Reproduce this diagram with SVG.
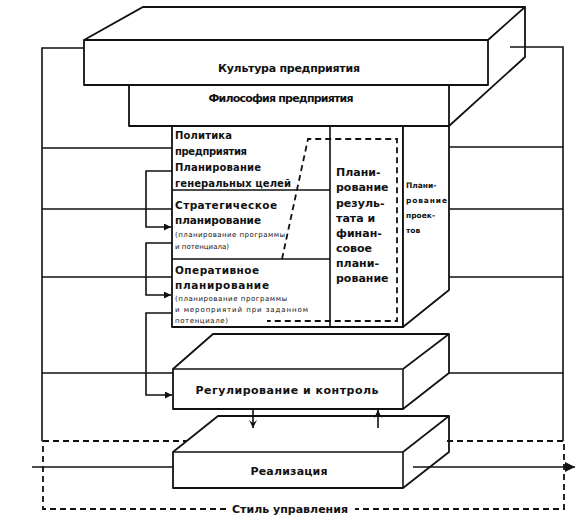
<svg xmlns="http://www.w3.org/2000/svg" width="576" height="526" viewBox="0 0 576 526">
<style>
  .bx{fill:#fff;stroke:#111;stroke-width:1.8;stroke-linejoin:round}
  .wf{fill:#fff;stroke:none}
  .ln{fill:none;stroke:#111;stroke-width:1.6}
  .ds{fill:none;stroke:#111;stroke-width:1.8;stroke-dasharray:6,4}
  .t{font-family:"DejaVu Sans","Liberation Sans",sans-serif;font-weight:bold;fill:#111}
  .h{font-size:11px}
  .m{font-size:10px}
  .s{font-size:7px;font-weight:normal}
  .r{font-size:10.5px}
  .p{font-size:7.5px}
</style>
<defs>
  <marker id="ah" viewBox="0 0 10 10" refX="10" refY="5" markerWidth="8" markerHeight="7" markerUnits="userSpaceOnUse" orient="auto">
    <path d="M0,0 L10,5 L0,10 Z" fill="#111"/>
  </marker>
  <marker id="ahb" viewBox="0 0 10 10" refX="10" refY="5" markerWidth="13" markerHeight="10" markerUnits="userSpaceOnUse" orient="auto">
    <path d="M0,0 L10,5 L0,10 Z" fill="#111"/>
  </marker>
  <marker id="av" viewBox="0 0 10 10" refX="10" refY="5" markerWidth="9" markerHeight="8" markerUnits="userSpaceOnUse" orient="auto">
    <path d="M0,0 L10,5 L0,10 L4,5 Z" fill="#111"/>
  </marker>
</defs>

<g id="culture">
  <path class="wf" d="M84,40 L143,7 L525,7 L525,57 L449,126 L449,85 L488,85 L488,40 Z"/>
  <path class="ln" d="M84,40 L143,7 H525 V57 L449,126 M488,40 L525,7" style="stroke-width:1.8"/>
  <rect class="bx" x="84" y="40" width="404" height="45"/>
  <text class="t h" x="289" y="72" text-anchor="middle" textLength="142">Культура предприятия</text>
</g>

<g id="philosophy">
  <rect class="bx" x="129" y="85" width="320" height="41"/>
  <text class="t h" x="281" y="102" text-anchor="middle" textLength="145">Философия предприятия</text>
</g>

<g id="planning">
  <rect class="bx" x="172" y="126" width="231" height="201"/>
  <path class="ln" d="M330,126 V327 M172,190 H330 M172,259 H330"/>
  <path class="bx" d="M403,126 L449,126 L449,290 L403,327 Z"/>
  <path class="ds" d="M282,259 L308,139 H397 V321 H267"/>
  <text class="t m" x="175" y="139" textLength="57">Политика</text>
  <text class="t m" x="175" y="155" textLength="72">предприятия</text>
  <text class="t m" x="175" y="171" textLength="86">Планирование</text>
  <text class="t m" x="175" y="187" textLength="116">генеральных целей</text>
  <text class="t r" x="175" y="209" textLength="102">Стратегическое</text>
  <text class="t r" x="175" y="224" textLength="86">планирование</text>
  <text class="t s" x="175" y="237" textLength="110">(планирование программы</text>
  <text class="t s" x="175" y="249" textLength="54">и потенциала)</text>
  <text class="t r" x="175" y="274" textLength="84">Оперативное</text>
  <text class="t r" x="175" y="289" textLength="94">планирование</text>
  <text class="t s" x="175" y="301" textLength="112">(планирование программы</text>
  <text class="t s" x="175" y="312" textLength="133">и мероприятий при заданном</text>
  <text class="t s" x="175" y="323" textLength="53">потенциале)</text>
  <g class="t h">
    <text x="336" y="176">Плани-</text>
    <text x="336" y="191">рование</text>
    <text x="336" y="207">резуль-</text>
    <text x="336" y="222">тата и</text>
    <text x="336" y="237">финан-</text>
    <text x="336" y="252">совое</text>
    <text x="336" y="267">плани-</text>
    <text x="336" y="282">рование</text>
  </g>
  <g class="t p">
    <text x="406" y="188">Плани-</text>
    <text x="406" y="203" textLength="41">рование</text>
    <text x="406" y="218">проек-</text>
    <text x="406" y="233">тов</text>
  </g>
</g>

<g id="control">
  <path class="bx" d="M173,369 L213,334 L449,334 L449,373 L403,409 L173,409 Z"/>
  <path class="ln" d="M173,369 H403 V409 M403,369 L449,334"/>
  <text class="t h" x="287" y="394" text-anchor="middle" textLength="183">Регулирование и контроль</text>
</g>

<g id="realization">
  <path class="bx" d="M173,452 L218,416 L449,416 L449,452 L403,488 L173,488 Z"/>
  <path class="ln" d="M173,452 H403 V488 M403,452 L449,416"/>
  <text class="t h" x="289" y="475" text-anchor="middle" textLength="77">Реализация</text>
</g>

<g id="connectors">
  <path class="ln" d="M84,48 H42 V441"/>
  <path class="ln" d="M510,47 H563 V441"/>
  <path class="ln" d="M42,148 H172 M42,209 H172 M42,277 H172 M42,373 H173"/>
  <path class="ln" d="M449,147 H563 M449,209 H563 M449,277 H563 M449,373 H563"/>
  <path class="ln" marker-end="url(#ah)" d="M172,171 H146 V227 H171"/>
  <path class="ln" marker-end="url(#ah)" d="M172,243 H146 V295 H171"/>
  <path class="ln" marker-end="url(#ah)" d="M172,313 H146 V395 H172"/>
  <path class="ln" marker-end="url(#av)" d="M253,409 V428"/>
  <path class="ln" marker-end="url(#av)" d="M378,428 V410"/>
  <path class="ln" d="M32,467 H173"/>
  <path class="ln" marker-end="url(#ahb)" d="M413,467 H575"/>
  <path class="ds" d="M43,441 H187 M447,441 H564 V509 H355 M226,509 H43 V441"/>
  <text class="t h" x="290" y="513" text-anchor="middle" textLength="116">Стиль управления</text>
</g>
</svg>
